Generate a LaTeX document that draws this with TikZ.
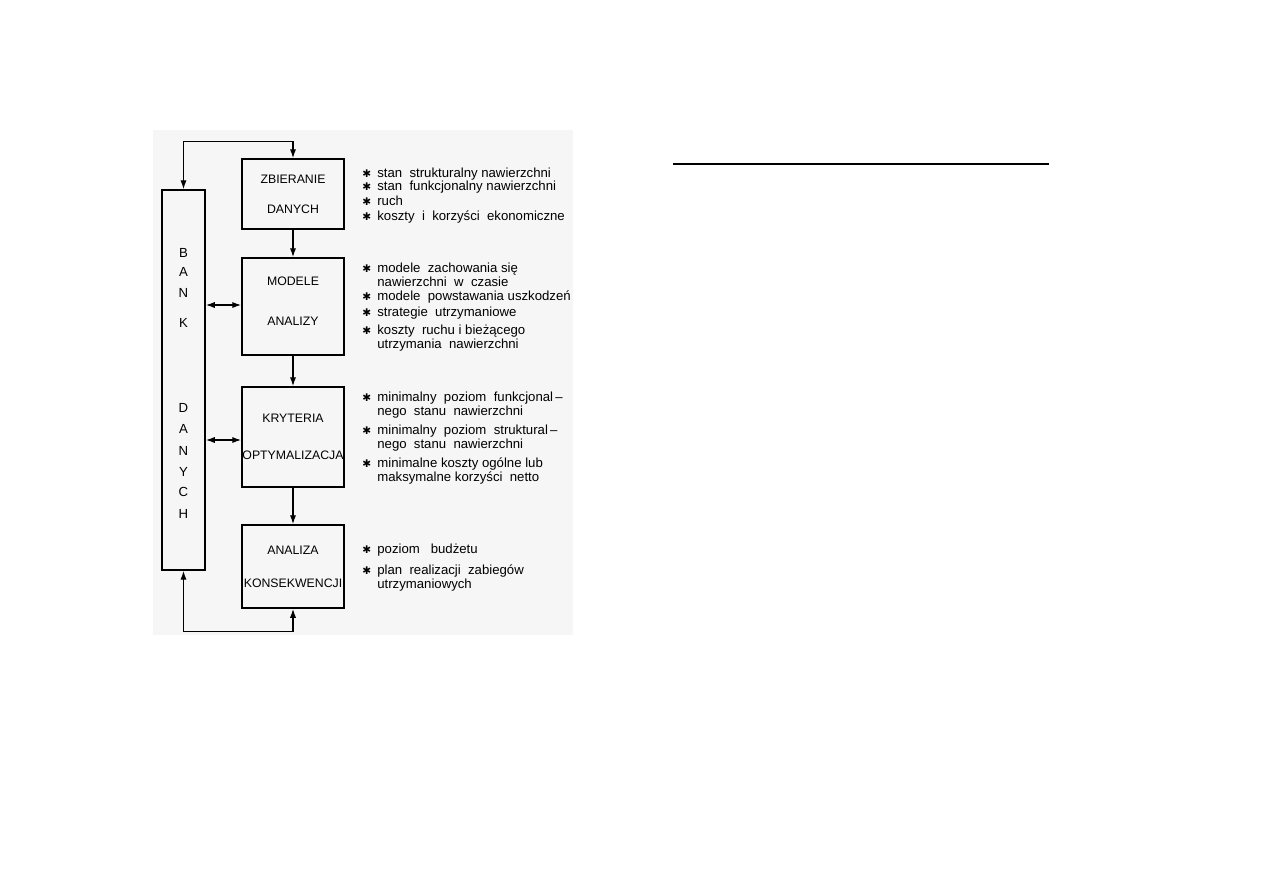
\documentclass[tikz,border=0pt]{standalone}
\usepackage{fontspec}
\setmainfont{Liberation Sans}
\newfontfamily\symfont{DejaVu Sans}
\usepackage{tikz}
\usetikzlibrary{arrows.meta}
\definecolor{scan}{HTML}{F6F6F6}
\newcommand{\stern}{\llap{{\symfont\fontsize{6}{6}\selectfont\char"2731}\hspace{3.5pt}}}

\begin{document}
\begin{tikzpicture}[x=0.02cm, y=-0.02cm, font=\fontsize{7.5}{7.6}\selectfont]
    \tikzstyle{blok} += [draw=black, line width=1.1pt, rectangle, minimum width=2.04cm, align=center, inner sep=0pt, font=\fontsize{7}{7.6}\selectfont];
    \tikzstyle{lista} += [anchor=base west, inner sep=0pt, align=left];
    \useasboundingbox (0,0) rectangle (1263,893);
    \fill[scan] (153,130) rectangle (573,635);

    \node (bank) at (183.5,380) [blok, minimum width=0.86cm, minimum height=7.6cm]{};
    \node (zb) at (293,194)   [blok, minimum height=1.40cm]{ZBIERANIE\\[9.4pt]DANYCH};
    \node (mo) at (293,306.5) [blok, minimum height=1.94cm, text depth=6pt]{MODELE\\[15.6pt]ANALIZY};
    \node (kr) at (293,437)   [blok, minimum height=2.00cm]{KRYTERIA\\[13.4pt]OPTYMALIZACJA};
    \node (an) at (293,566.5) [blok, minimum height=1.66cm]{ANALIZA\\[11pt]KONSEKWENCJI};

    % BANK DANYCH, letter by letter
    \foreach \l/\y in {B/253, A/272, N/293, K/323, D/408, A/429, N/451, Y/472, C/492, H/514}
      \node (bank\y) at (183.5,\y) {\l};

    \begin{scope}[line width=0.6pt, >={Latex[length=5pt, width=3.5pt]}]
      \draw[<->] (bank.north) -- ++(0,-48) -| (zb.north);
      \draw[->] (zb.south) -- (mo.north);
      \draw[->] (mo.south) -- (kr.north);
      \draw[->] (kr.south) -- (an.north);
      \draw[<->] (bank.east |- 0,305) -- (mo.west |- 0,305);
      \draw[<->] (bank.east |- 0,440) -- (kr.west |- 0,440);
      \draw[<->] (bank.south) -- ++(0,61) -| (an.south);
    \end{scope}

    % objasnienia (wielowierszowe: baza = ostatni wiersz)
    \node (l1) at (377,177) [lista]{\stern stan\ \ strukturalny nawierzchni};
    \node (l2) at (377,190) [lista]{\stern stan\ \ funkcjonalny nawierzchni};
    \node (l3) at (377,205) [lista]{\stern ruch};
    \node (l4) at (377,220) [lista]{\stern koszty\ \ i\ \ korzyści\ \ ekonomiczne};
    \node (l5) at (377,286) [lista]{\stern modele\ \ zachowania się\\nawierzchni\ \ w\ \ czasie};
    \node (l6) at (377,300) [lista]{\stern modele\ \ powstawania\ uszkodzeń};
    \node (l7) at (377,316) [lista]{\stern strategie\ \ utrzymaniowe};
    \node (l8) at (377,348) [lista]{\stern koszty\ \ ruchu i bieżącego\\utrzymania\ \ nawierzchni};
    \node (l9) at (377,415) [lista]{\stern minimalny\ \ poziom\ \ funkcjonal\,--\\nego\ \ stanu\ \ nawierzchni};
    \node (l10) at (377,448) [lista]{\stern minimalny\ \ poziom\ \ struktural\,--\\nego\ \ stanu\ \ nawierzchni};
    \node (l11) at (377,481) [lista]{\stern minimalne\ koszty ogólne\ lub\\maksymalne\ korzyści\ \ netto};
    \node (l12) at (377,553) [lista]{\stern poziom\ \ \ budżetu};
    \node (l13) at (377,588) [lista]{\stern plan\ \ realizacji\ \ zabiegów\\utrzymaniowych};

    \coordinate (k1) at (673,164);
    \coordinate (k2) at (1049,164);
    \draw[line width=1.5pt] (k1) -- (k2);
\end{tikzpicture}
\end{document}
